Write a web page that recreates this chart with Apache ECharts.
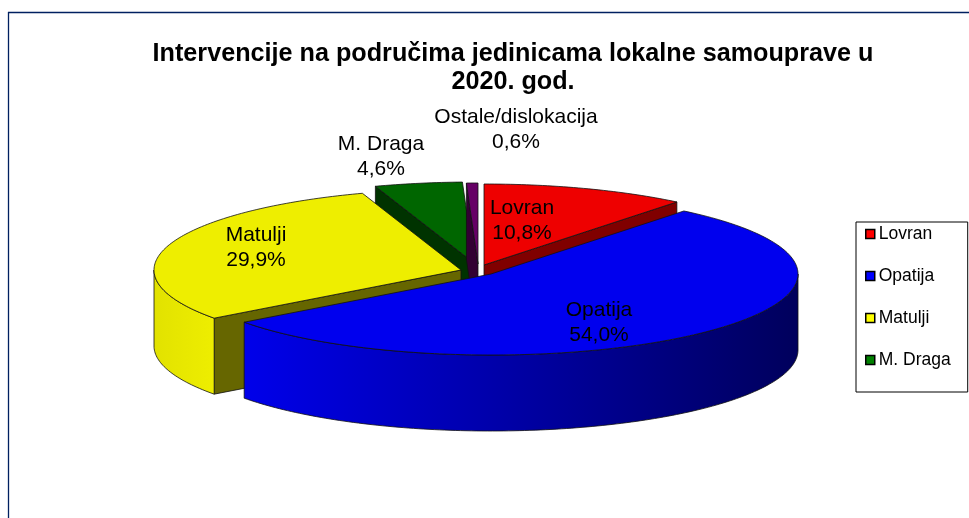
<!DOCTYPE html>
<html><head><meta charset="utf-8">
<style>html,body{margin:0;padding:0;background:#fff}#c{width:969px;height:518px}</style>
<script src="https://cdn.jsdelivr.net/npm/echarts@6/dist/echarts.min.js"></script>
</head><body><div id="c"></div>
<script>
const categories = ['Lovran', 'Opatija', 'Matulji', 'M. Draga', 'Ostale/dislokacija'];
const values = [10.8, 54.0, 29.9, 4.6, 0.6];
const legendItems = ['Lovran', 'Opatija', 'Matulji', 'M. Draga'];
const titleLines = ['Intervencije na područima jedinicama lokalne samouprave u', '2020. god.'];

const legendColors = ['#ff0000', '#0000ff', '#ffff00', '#008000', '#660066'];
const topColors = ['#ee0000', '#0000ee', '#eeee00', '#006600', '#660066'];
const cutColors = ['#800000', '#000080', '#666600', '#003300', '#330033'];
const wallStops = [
  null,
  { x0: 245, x1: 798, from: '#0000ea', to: '#00005c' },
  { x0: 154, x1: 215, from: '#e2e200', to: '#eeee00' },
  null, null
];
const apexes = [[484, 265], [491, 274], [461, 270], [474, 263], [478, 264]];
const labelCenters = [[522, 221], [599, 323], [256, 248], [381, 157], [516, 130]];
const paintOrder = [3, 4, 0, 2, 1];
const RX = 307, RY = 81, DEPTH = 76;

const total = values.reduce((a, b) => a + b, 0);
const starts = [];
values.reduce((acc, v, i) => { starts[i] = acc / total * 360; return acc + v; }, 0);

function pt(apex, deg, dy) {
  const r = deg * Math.PI / 180;
  return [apex[0] + RX * Math.sin(r), apex[1] - RY * Math.cos(r) + (dy || 0)];
}
function arc(apex, a, b, dy) {
  const n = Math.max(2, Math.ceil(Math.abs(b - a)));
  const out = [];
  for (let k = 0; k <= n; k++) out.push(pt(apex, a + (b - a) * k / n, dy));
  return out;
}
function renderSlice(i) {
  return function (params, api) {
    const v = api.value(0);
    const a = starts[i], b = a + v / total * 360;
    const apex = apexes[i];
    const stroke = { stroke: '#111', lineWidth: 0.8, lineJoin: 'round' };
    const kids = [];
    const cut = function (deg) {
      const p = pt(apex, deg);
      kids.push({ type: 'polygon', shape: { points: [apex, p, [p[0], p[1] + DEPTH], [apex[0], apex[1] + DEPTH]] },
        style: Object.assign({ fill: cutColors[i] }, stroke) });
    };
    if (Math.sin(a * Math.PI / 180) < -1e-6) cut(a);
    if (Math.sin(b * Math.PI / 180) > 1e-6) cut(b);
    const w0 = Math.max(a, 90), w1 = Math.min(b, 270);
    if (w1 > w0) {
      const g = wallStops[i];
      kids.push({ type: 'polygon',
        shape: { points: arc(apex, w0, w1, 0).concat(arc(apex, w1, w0, DEPTH)) },
        style: Object.assign({
          fill: { type: 'linear', x: g.x0, y: 0, x2: g.x1, y2: 0, global: true,
                  colorStops: [{ offset: 0, color: g.from }, { offset: 1, color: g.to }] }
        }, stroke) });
    }
    kids.push({ type: 'polygon', shape: { points: [apex].concat(arc(apex, a, b, 0)) },
      style: Object.assign({ fill: topColors[i] }, stroke) });
    return { type: 'group', children: kids };
  };
}
function renderLabel(params, api) {
  const i = api.value(0);
  const c = labelCenters[i];
  return { type: 'text', style: {
    x: c[0], y: c[1], align: 'center', verticalAlign: 'middle',
    text: categories[i] + '\n' + values[i].toFixed(1).replace('.', ',') + '%',
    fill: '#000', font: '21px "Liberation Sans", Arial, sans-serif', lineHeight: 25
  } };
}

const series = paintOrder.map(i => ({
  type: 'custom', name: categories[i], coordinateSystem: 'none', silent: true,
  itemStyle: { color: legendColors[i] },
  renderItem: renderSlice(i), data: [[values[i]]], z: 2
}));
series.push({
  type: 'custom', name: 'labels', coordinateSystem: 'none', silent: true, z: 5,
  renderItem: renderLabel, data: categories.map((c, i) => [i])
});

const titleFont = { fontFamily: '"Liberation Sans", Arial, sans-serif', fontWeight: 'bold', fontSize: 25.2, color: '#000' };
const chart = echarts.init(document.getElementById('c'), null, { renderer: 'canvas' });
chart.setOption({
  animation: false,
  backgroundColor: '#ffffff',
  title: [
    { text: titleLines[0], left: 508, top: 37, textAlign: 'center', textStyle: titleFont },
    { text: titleLines[1], left: 508, top: 65, textAlign: 'center', textStyle: titleFont }
  ],
  legend: {
    data: legendItems, orient: 'vertical', left: 856, top: 222,
    padding: [3, 17, 23, 9], itemGap: 24, itemWidth: 9, itemHeight: 9,
    icon: 'rect', selectedMode: false,
    borderColor: '#000', borderWidth: 1, backgroundColor: '#fff',
    itemStyle: { borderColor: '#000', borderWidth: 1.5 },
    textStyle: { fontFamily: '"Liberation Sans", Arial, sans-serif', fontSize: 17.5, color: '#000', padding: [0, 0, 0, -1] }
  },
  graphic: [
    { type: 'line', shape: { x1: 8.5, y1: 12, x2: 8.5, y2: 518 }, style: { stroke: '#002060', lineWidth: 1.3 }, silent: true },
    { type: 'line', shape: { x1: 8, y1: 12.5, x2: 969, y2: 12.5 }, style: { stroke: '#002060', lineWidth: 1.3 }, silent: true }
  ],
  series: series
});
</script></body></html>
